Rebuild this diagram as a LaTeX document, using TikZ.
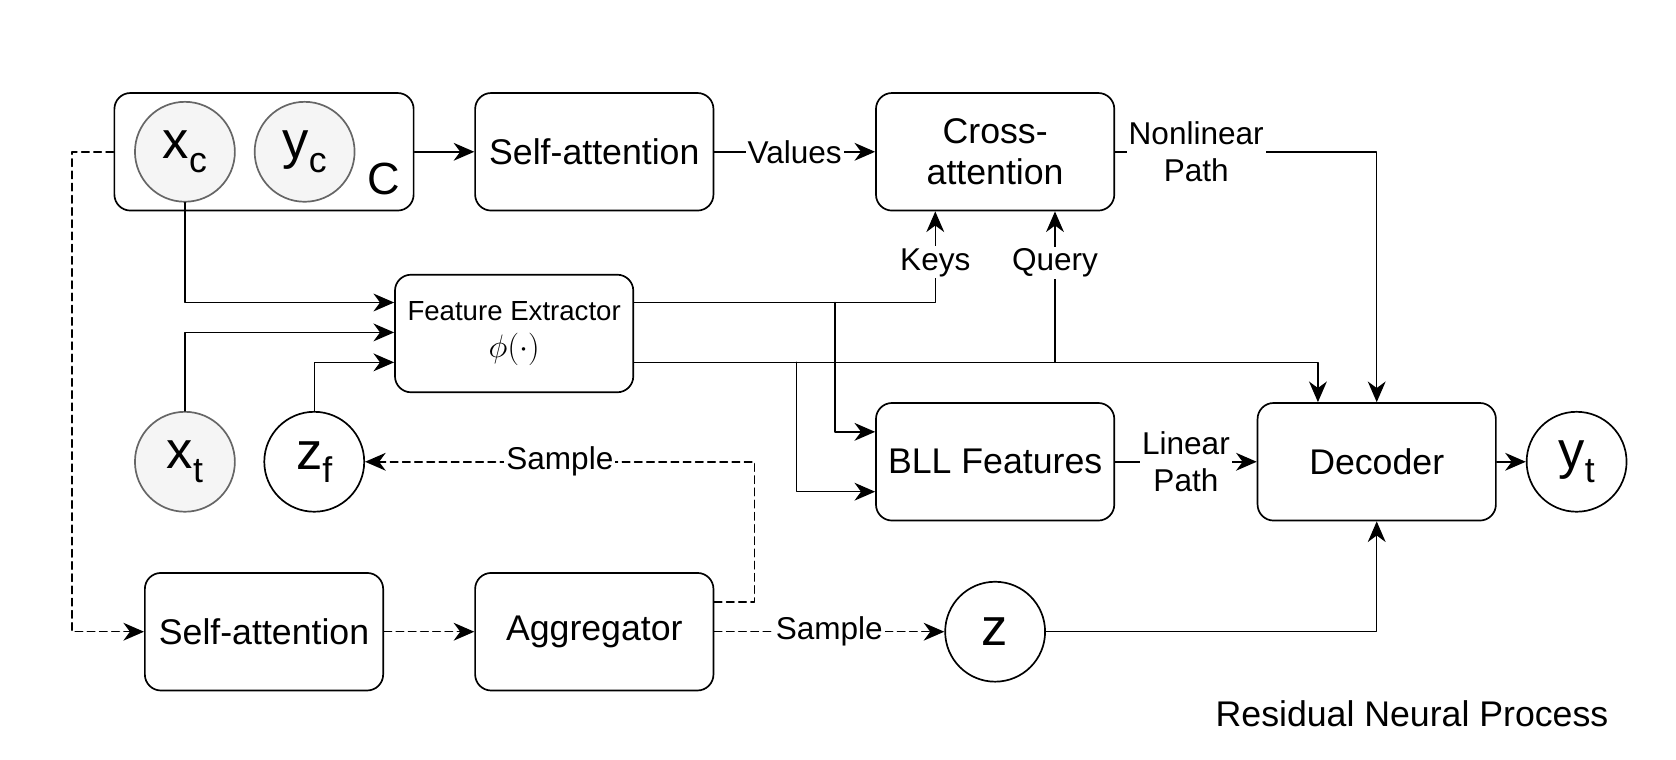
\documentclass[tikz,border=0pt]{standalone}
\usepackage{fontspec}
\setmainfont{Liberation Sans}
\usetikzlibrary{arrows.meta,calc}
\newcommand{\varlab}[2]{{\fontsize{28}{30}\selectfont #1\raisebox{-7pt}{\fontsize{19}{20}\selectfont #2}}}
\begin{document}
\begin{tikzpicture}[line cap=round,line join=round,>={Stealth[length=11pt,width=9.5pt,inset=3.5pt]},x=0.02cm,y=-0.02cm,
		blk/.style={draw,rounded corners=0.3cm,line width=0.9pt,minimum width=4.46cm,minimum height=2.2cm,align=center,inner sep=0pt,font=\fontsize{19}{22}\selectfont},
		var/.style={draw,circle,line width=0.9pt,minimum size=1.87cm,inner sep=0pt},
		obs/.style={var,fill=black!4,draw=black!60},
		lbl/.style={fill=white,inner sep=1pt,align=center,font=\fontsize{16.8}{20}\selectfont},
		dsh/.style={dash pattern=on 4pt off 2.5pt},
		wire/.style={line width=0.8pt}]
				\fill[white] (0,0) rectangle (1568,711);
				\node[blk,minimum width=5.6cm] (ctx) at (247,142) {};
				\node[obs] (xc) at (173,142) {\varlab{x}{c}};
				\node[obs] (yc) at (285,142) {\varlab{y}{c}};
				\node[font=\fontsize{24}{26}\selectfont] (cl) at (359,167) {C};
				\node[blk] (sa1) at (556,142) {Self-attention};
				\node[blk] (ca) at (931,142) {Cross-\\attention};
				\node[blk,font=\fontsize{14.7}{18}\selectfont] (fe) at (481,312) {Feature Extractor\\[2pt]{\fontsize{17}{20}\selectfont$\phi(\cdot)$}};
				\node[obs] (xt) at (173,432) {\varlab{x}{t}};
				\node[var] (zf) at (294,432) {\varlab{z}{f}};
				\node[blk] (bll) at (931,432) {BLL Features};
				\node[blk] (dec) at (1288,432) {Decoder};
				\node[var] (yt) at (1475,432) {\varlab{y}{t}};
				\node[blk] (sa2) at (247,591) {Self-attention};
				\node[blk] (agg) at (556,591) {Aggregator};
				\node[var] (z) at (931,591) {{\fontsize{28}{30}\selectfont z}};
				\node[font=\fontsize{19}{22}\selectfont] (title) at (1321,668) {Residual Neural Process};
				
				\coordinate (f1) at ($(fe.west)+(0,-29)$);
				\coordinate (f2) at ($(fe.west)+(0,-1)$);
				\coordinate (f3) at ($(fe.west)+(0,27)$);
				\coordinate (fe1) at ($(fe.east)+(0,-29)$);
				\coordinate (fe2) at ($(fe.east)+(0,27)$);
				\coordinate (k) at ($(ca.south)+(-56,0)$);
				\coordinate (q) at ($(ca.south)+(56,0)$);
				\coordinate (d1) at ($(dec.north)+(-55,0)$);
				\coordinate (b1) at ($(bll.west)+(0,-28)$);
				\coordinate (b2) at ($(bll.west)+(0,28)$);
				\coordinate (au) at ($(agg.east)+(0,-28)$);
				\coordinate (smp) at (706,432);
				\coordinate (lft) at ($(ctx.west)+(-39,0)$);
				
				\draw[wire,->] (ctx) -- (sa1);
				\draw[wire,->] (sa1) -- node[lbl]{Values} (ca);
				\draw[wire,->] (ca) -- node[lbl,pos=0.31]{Nonlinear\\Path} (ca -| dec) -- (dec);
				\draw[wire,->] (xc) |- (f1);
				\draw[wire,->] (xt) |- (f2);
				\draw[wire,->] (zf) |- (f3);
				\draw[wire,->] (fe1) -| node[lbl,pos=0.72]{Keys} (k);
				\draw[wire,->] (fe2) -| (d1);
				\draw[wire,->] (q |- fe2) -- node[lbl,pos=0.66]{Query} (q);
				\draw[wire,->] ($(fe1)+(188,0)$) |- (b1);
				\draw[wire,->] ($(fe2)+(152,0)$) |- (b2);
				\draw[wire,->] (bll) -- node[lbl]{Linear\\Path} (dec);
				\draw[wire,->] (dec) -- (yt);
				\draw[wire,->] (z) -| (dec);
				\draw[wire,dsh,->] (ctx.west) -- (lft) |- (sa2);
				\draw[wire,dsh,->] (sa2) -- (agg);
				\draw[wire,dsh,->] (agg) -- node[lbl]{Sample} (z);
				\draw[wire,dsh,->] (au) -| (smp) -- node[lbl]{Sample} (zf);
				
			\end{tikzpicture}
\end{document}
